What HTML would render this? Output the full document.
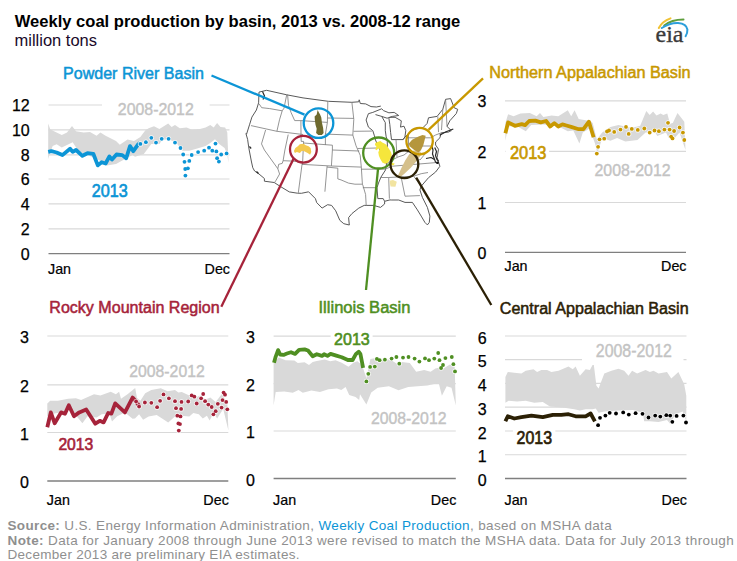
<!DOCTYPE html>
<html><head><meta charset="utf-8"><style>
html,body{margin:0;padding:0;background:#fff;}
svg{display:block;}
text{font-family:'Liberation Sans', sans-serif;}
</style></head><body>
<svg width="737" height="561" viewBox="0 0 737 561">
<rect width="737" height="561" fill="#fff"/>
<text x="14.8" y="26.5" font-size="16.4" fill="#000" font-weight="bold" textLength="445.5" lengthAdjust="spacingAndGlyphs">Weekly coal production by basin, 2013 vs. 2008-12 range</text>
<text x="14.5" y="45.6" font-size="16.5" fill="#1a0a2a">million tons</text>
<line x1="48.5" y1="105" x2="229.5" y2="105" stroke="#d9d9d9" stroke-width="1.2"/>
<text x="29.7" y="111.3" font-size="16" fill="#000" text-anchor="end" stroke="#000" stroke-width="0.25">12</text>
<line x1="48.5" y1="129.9" x2="229.5" y2="129.9" stroke="#d9d9d9" stroke-width="1.2"/>
<text x="29.7" y="136.2" font-size="16" fill="#000" text-anchor="end" stroke="#000" stroke-width="0.25">10</text>
<line x1="48.5" y1="154.8" x2="229.5" y2="154.8" stroke="#d9d9d9" stroke-width="1.2"/>
<text x="29.7" y="161.1" font-size="16" fill="#000" text-anchor="end" stroke="#000" stroke-width="0.25">8</text>
<line x1="48.5" y1="179" x2="229.5" y2="179" stroke="#d9d9d9" stroke-width="1.2"/>
<text x="29.7" y="185.3" font-size="16" fill="#000" text-anchor="end" stroke="#000" stroke-width="0.25">6</text>
<line x1="48.5" y1="203.8" x2="229.5" y2="203.8" stroke="#d9d9d9" stroke-width="1.2"/>
<text x="29.7" y="210.1" font-size="16" fill="#000" text-anchor="end" stroke="#000" stroke-width="0.25">4</text>
<line x1="48.5" y1="228.8" x2="229.5" y2="228.8" stroke="#d9d9d9" stroke-width="1.2"/>
<text x="29.7" y="235.1" font-size="16" fill="#000" text-anchor="end" stroke="#000" stroke-width="0.25">2</text>
<line x1="48.5" y1="253.6" x2="229.5" y2="253.6" stroke="#7f7f7f" stroke-width="1.4"/>
<text x="29.7" y="259.9" font-size="16" fill="#000" text-anchor="end" stroke="#000" stroke-width="0.25">0</text>
<text x="48.0" y="274.4" font-size="14.3" fill="#000" stroke="#000" stroke-width="0.2">Jan</text>
<text x="230.0" y="274.4" font-size="14.3" fill="#000" text-anchor="end" stroke="#000" stroke-width="0.2">Dec</text>
<polygon points="48.2,123.5 50.2,129.3 54.0,131.3 61.8,135.1 67.0,132.6 72.0,126.1 76.0,131.3 83.7,132.6 90.0,132.0 96.6,135.8 100.4,132.6 105.6,135.8 116.0,141.0 119.8,144.8 127.5,139.6 134.0,141.0 140.4,137.1 145.2,130.4 148.6,128.3 154.0,126.3 159.4,129.0 168.2,123.6 171.6,127.0 175.0,125.0 179.8,128.3 186.6,127.6 192.0,129.7 200.0,129.0 205.6,127.6 210.3,125.0 213.7,127.6 217.1,122.9 220.5,127.0 225.2,127.6 227.3,132.4 228.5,163.0 228.5,163.0 227.3,154.8 224.6,148.0 219.2,143.9 215.0,139.2 211.0,142.6 205.6,146.0 194.7,149.3 189.3,150.7 182.5,150.7 175.7,141.9 167.6,139.2 162.1,139.9 159.4,143.9 151.3,143.9 143.8,154.1 135.0,156.8 132.6,155.0 125.0,159.0 116.0,164.0 107.0,165.4 99.0,160.3 94.0,157.7 87.5,155.0 78.5,151.2 72.7,142.2 61.8,147.4 56.6,144.2 52.7,146.0 50.2,152.5 48.2,159.0" fill="#d9d9d9"/>
<polyline points="48.2,151.9 51.4,151.2 56.6,152.5 62.4,155.1 70.1,148.7 72.7,151.9 76.0,150.0 82.4,155.8 87.5,153.2 93.3,153.8 97.8,165.4 101.7,162.2 105.6,163.5 109.4,156.4 112.0,159.6 116.5,154.5 122.3,155.1 126.2,158.3 130.0,146.1 133.3,151.2 137.8,144.8 140.0,142.9" fill="none" stroke="#0c95d6" stroke-width="3.8" stroke-linejoin="round" stroke-linecap="butt"/>
<circle cx="140.4" cy="143.9" r="2.6" fill="#fff" fill-opacity="0.85"/>
<circle cx="145.9" cy="142.2" r="2.6" fill="#fff" fill-opacity="0.85"/>
<circle cx="151.3" cy="137.8" r="2.6" fill="#fff" fill-opacity="0.85"/>
<circle cx="156" cy="142.6" r="2.6" fill="#fff" fill-opacity="0.85"/>
<circle cx="161.7" cy="138.8" r="2.6" fill="#fff" fill-opacity="0.85"/>
<circle cx="168.6" cy="138.8" r="2.6" fill="#fff" fill-opacity="0.85"/>
<circle cx="175" cy="142.6" r="2.6" fill="#fff" fill-opacity="0.85"/>
<circle cx="180.5" cy="148" r="2.6" fill="#fff" fill-opacity="0.85"/>
<circle cx="183.2" cy="154.5" r="2.6" fill="#fff" fill-opacity="0.85"/>
<circle cx="184.5" cy="161.8" r="2.6" fill="#fff" fill-opacity="0.85"/>
<circle cx="185.2" cy="169" r="2.6" fill="#fff" fill-opacity="0.85"/>
<circle cx="185.4" cy="175.6" r="2.6" fill="#fff" fill-opacity="0.85"/>
<circle cx="187.9" cy="168.3" r="2.6" fill="#fff" fill-opacity="0.85"/>
<circle cx="189.3" cy="160.9" r="2.6" fill="#fff" fill-opacity="0.85"/>
<circle cx="191.7" cy="155" r="2.6" fill="#fff" fill-opacity="0.85"/>
<circle cx="198.1" cy="152.1" r="2.6" fill="#fff" fill-opacity="0.85"/>
<circle cx="204.2" cy="150.7" r="2.6" fill="#fff" fill-opacity="0.85"/>
<circle cx="209" cy="147.7" r="2.6" fill="#fff" fill-opacity="0.85"/>
<circle cx="212.3" cy="150.7" r="2.6" fill="#fff" fill-opacity="0.85"/>
<circle cx="215.5" cy="143.6" r="2.6" fill="#fff" fill-opacity="0.85"/>
<circle cx="216.4" cy="151.4" r="2.6" fill="#fff" fill-opacity="0.85"/>
<circle cx="217.1" cy="158.2" r="2.6" fill="#fff" fill-opacity="0.85"/>
<circle cx="218.9" cy="161.6" r="2.6" fill="#fff" fill-opacity="0.85"/>
<circle cx="221.2" cy="154.5" r="2.6" fill="#fff" fill-opacity="0.85"/>
<circle cx="226.6" cy="153.4" r="2.6" fill="#fff" fill-opacity="0.85"/>
<circle cx="140.4" cy="143.9" r="1.9" fill="#0c95d6"/>
<circle cx="145.9" cy="142.2" r="1.9" fill="#0c95d6"/>
<circle cx="151.3" cy="137.8" r="1.9" fill="#0c95d6"/>
<circle cx="156" cy="142.6" r="1.9" fill="#0c95d6"/>
<circle cx="161.7" cy="138.8" r="1.9" fill="#0c95d6"/>
<circle cx="168.6" cy="138.8" r="1.9" fill="#0c95d6"/>
<circle cx="175" cy="142.6" r="1.9" fill="#0c95d6"/>
<circle cx="180.5" cy="148" r="1.9" fill="#0c95d6"/>
<circle cx="183.2" cy="154.5" r="1.9" fill="#0c95d6"/>
<circle cx="184.5" cy="161.8" r="1.9" fill="#0c95d6"/>
<circle cx="185.2" cy="169" r="1.9" fill="#0c95d6"/>
<circle cx="185.4" cy="175.6" r="1.9" fill="#0c95d6"/>
<circle cx="187.9" cy="168.3" r="1.9" fill="#0c95d6"/>
<circle cx="189.3" cy="160.9" r="1.9" fill="#0c95d6"/>
<circle cx="191.7" cy="155" r="1.9" fill="#0c95d6"/>
<circle cx="198.1" cy="152.1" r="1.9" fill="#0c95d6"/>
<circle cx="204.2" cy="150.7" r="1.9" fill="#0c95d6"/>
<circle cx="209" cy="147.7" r="1.9" fill="#0c95d6"/>
<circle cx="212.3" cy="150.7" r="1.9" fill="#0c95d6"/>
<circle cx="215.5" cy="143.6" r="1.9" fill="#0c95d6"/>
<circle cx="216.4" cy="151.4" r="1.9" fill="#0c95d6"/>
<circle cx="217.1" cy="158.2" r="1.9" fill="#0c95d6"/>
<circle cx="218.9" cy="161.6" r="1.9" fill="#0c95d6"/>
<circle cx="221.2" cy="154.5" r="1.9" fill="#0c95d6"/>
<circle cx="226.6" cy="153.4" r="1.9" fill="#0c95d6"/>
<line x1="505" y1="100.8" x2="686" y2="100.8" stroke="#d9d9d9" stroke-width="1.2"/>
<text x="486.5" y="107.1" font-size="16" fill="#000" text-anchor="end" stroke="#000" stroke-width="0.25">3</text>
<line x1="505" y1="151.4" x2="686" y2="151.4" stroke="#d9d9d9" stroke-width="1.2"/>
<text x="486.5" y="157.7" font-size="16" fill="#000" text-anchor="end" stroke="#000" stroke-width="0.25">2</text>
<line x1="505" y1="202.5" x2="686" y2="202.5" stroke="#d9d9d9" stroke-width="1.2"/>
<text x="486.5" y="208.8" font-size="16" fill="#000" text-anchor="end" stroke="#000" stroke-width="0.25">1</text>
<line x1="505" y1="252.4" x2="686" y2="252.4" stroke="#7f7f7f" stroke-width="1.4"/>
<text x="486.5" y="258.7" font-size="16" fill="#000" text-anchor="end" stroke="#000" stroke-width="0.25">0</text>
<text x="504.5" y="270.8" font-size="14.3" fill="#000" stroke="#000" stroke-width="0.2">Jan</text>
<text x="686.5" y="270.8" font-size="14.3" fill="#000" text-anchor="end" stroke="#000" stroke-width="0.2">Dec</text>
<polygon points="505.4,123.0 508.1,114.2 513.6,116.3 520.4,113.6 529.9,112.9 536.6,116.3 540.0,112.9 543.4,117.0 551.6,115.6 558.3,116.3 567.8,110.2 571.2,116.3 574.6,110.2 578.7,119.0 586.8,120.4 590.0,120.4 592.7,123.1 596.8,139.3 602.2,132.6 610.4,127.1 618.5,125.1 625.3,126.5 632.1,127.8 640.2,125.8 646.3,110.9 649.7,114.9 653.1,111.5 656.5,115.6 660.6,113.6 663.3,114.9 667.3,113.6 670.0,123.7 672.8,123.1 677.5,112.9 684.3,121.7 685.5,150.0 685.5,150.0 679.5,132.6 674.1,138.7 668.7,138.0 666.0,132.6 657.2,136.0 655.1,131.9 645.6,132.6 637.5,140.0 625.3,141.4 617.1,138.0 610.4,140.7 602.2,138.0 597.5,153.6 595.0,143.4 589.6,128.5 582.8,132.6 579.4,143.4 573.3,130.5 567.8,131.2 557.0,125.8 543.4,124.4 531.2,125.1 525.8,131.2 516.3,125.8 508.1,126.5 505.4,140.7" fill="#d9d9d9"/>
<polyline points="505.4,133.2 508.1,122.4 514.9,125.8 521.7,124.2 525.1,125.1 529.2,121.0 535.3,120.6 540.7,122.4 546.1,121.0 550.2,126.5 554.3,123.1 558.3,126.5 562.4,124.4 566.5,125.5 571.9,127.1 578.7,129.2 583.4,129.2 588.9,121.7 593.6,137.3" fill="none" stroke="#c89800" stroke-width="3.8" stroke-linejoin="round" stroke-linecap="butt"/>
<circle cx="596.8" cy="153.6" r="2.6" fill="#fff" fill-opacity="0.85"/>
<circle cx="598.1" cy="146.8" r="2.6" fill="#fff" fill-opacity="0.85"/>
<circle cx="599.5" cy="139.3" r="2.6" fill="#fff" fill-opacity="0.85"/>
<circle cx="604.2" cy="138.7" r="2.6" fill="#fff" fill-opacity="0.85"/>
<circle cx="607" cy="131.5" r="2.6" fill="#fff" fill-opacity="0.85"/>
<circle cx="609" cy="130.5" r="2.6" fill="#fff" fill-opacity="0.85"/>
<circle cx="614.2" cy="131.9" r="2.6" fill="#fff" fill-opacity="0.85"/>
<circle cx="620.5" cy="129.6" r="2.6" fill="#fff" fill-opacity="0.85"/>
<circle cx="626" cy="126.9" r="2.6" fill="#fff" fill-opacity="0.85"/>
<circle cx="628.7" cy="133.9" r="2.6" fill="#fff" fill-opacity="0.85"/>
<circle cx="631.8" cy="128.9" r="2.6" fill="#fff" fill-opacity="0.85"/>
<circle cx="637.8" cy="129.9" r="2.6" fill="#fff" fill-opacity="0.85"/>
<circle cx="644.3" cy="128.5" r="2.6" fill="#fff" fill-opacity="0.85"/>
<circle cx="649.7" cy="132.6" r="2.6" fill="#fff" fill-opacity="0.85"/>
<circle cx="654.5" cy="130.5" r="2.6" fill="#fff" fill-opacity="0.85"/>
<circle cx="658.9" cy="131.2" r="2.6" fill="#fff" fill-opacity="0.85"/>
<circle cx="664.4" cy="129.6" r="2.6" fill="#fff" fill-opacity="0.85"/>
<circle cx="668" cy="122.8" r="2.6" fill="#fff" fill-opacity="0.85"/>
<circle cx="669.6" cy="129.6" r="2.6" fill="#fff" fill-opacity="0.85"/>
<circle cx="671.1" cy="136.6" r="2.6" fill="#fff" fill-opacity="0.85"/>
<circle cx="672.5" cy="138.4" r="2.6" fill="#fff" fill-opacity="0.85"/>
<circle cx="674.1" cy="131" r="2.6" fill="#fff" fill-opacity="0.85"/>
<circle cx="679.6" cy="127.5" r="2.6" fill="#fff" fill-opacity="0.85"/>
<circle cx="682.9" cy="132.6" r="2.6" fill="#fff" fill-opacity="0.85"/>
<circle cx="684.3" cy="140" r="2.6" fill="#fff" fill-opacity="0.85"/>
<circle cx="596.8" cy="153.6" r="1.9" fill="#c89800"/>
<circle cx="598.1" cy="146.8" r="1.9" fill="#c89800"/>
<circle cx="599.5" cy="139.3" r="1.9" fill="#c89800"/>
<circle cx="604.2" cy="138.7" r="1.9" fill="#c89800"/>
<circle cx="607" cy="131.5" r="1.9" fill="#c89800"/>
<circle cx="609" cy="130.5" r="1.9" fill="#c89800"/>
<circle cx="614.2" cy="131.9" r="1.9" fill="#c89800"/>
<circle cx="620.5" cy="129.6" r="1.9" fill="#c89800"/>
<circle cx="626" cy="126.9" r="1.9" fill="#c89800"/>
<circle cx="628.7" cy="133.9" r="1.9" fill="#c89800"/>
<circle cx="631.8" cy="128.9" r="1.9" fill="#c89800"/>
<circle cx="637.8" cy="129.9" r="1.9" fill="#c89800"/>
<circle cx="644.3" cy="128.5" r="1.9" fill="#c89800"/>
<circle cx="649.7" cy="132.6" r="1.9" fill="#c89800"/>
<circle cx="654.5" cy="130.5" r="1.9" fill="#c89800"/>
<circle cx="658.9" cy="131.2" r="1.9" fill="#c89800"/>
<circle cx="664.4" cy="129.6" r="1.9" fill="#c89800"/>
<circle cx="668" cy="122.8" r="1.9" fill="#c89800"/>
<circle cx="669.6" cy="129.6" r="1.9" fill="#c89800"/>
<circle cx="671.1" cy="136.6" r="1.9" fill="#c89800"/>
<circle cx="672.5" cy="138.4" r="1.9" fill="#c89800"/>
<circle cx="674.1" cy="131" r="1.9" fill="#c89800"/>
<circle cx="679.6" cy="127.5" r="1.9" fill="#c89800"/>
<circle cx="682.9" cy="132.6" r="1.9" fill="#c89800"/>
<circle cx="684.3" cy="140" r="1.9" fill="#c89800"/>
<line x1="47.3" y1="336" x2="228.3" y2="336" stroke="#d9d9d9" stroke-width="1.2"/>
<text x="28.9" y="343.3" font-size="16" fill="#000" text-anchor="end" stroke="#000" stroke-width="0.25">3</text>
<line x1="47.3" y1="384.9" x2="228.3" y2="384.9" stroke="#d9d9d9" stroke-width="1.2"/>
<text x="28.9" y="392.2" font-size="16" fill="#000" text-anchor="end" stroke="#000" stroke-width="0.25">2</text>
<line x1="47.3" y1="432.5" x2="228.3" y2="432.5" stroke="#d9d9d9" stroke-width="1.2"/>
<text x="28.9" y="439.8" font-size="16" fill="#000" text-anchor="end" stroke="#000" stroke-width="0.25">1</text>
<line x1="47.3" y1="481" x2="228.3" y2="481" stroke="#7f7f7f" stroke-width="1.4"/>
<text x="28.9" y="488.3" font-size="16" fill="#000" text-anchor="end" stroke="#000" stroke-width="0.25">0</text>
<text x="46.8" y="505" font-size="14.3" fill="#000" stroke="#000" stroke-width="0.2">Jan</text>
<text x="228.8" y="505" font-size="14.3" fill="#000" text-anchor="end" stroke="#000" stroke-width="0.2">Dec</text>
<polygon points="47.3,403.4 50.2,400.8 57.9,400.8 68.2,398.8 75.9,398.2 81.1,400.1 94.0,394.3 100.4,395.6 110.7,391.8 115.9,394.3 119.1,391.8 121.0,398.8 127.5,394.3 135.2,387.9 137.0,398.1 140.4,400.8 145.2,393.3 151.3,389.9 160.8,388.2 167.6,391.3 175.0,389.9 178.4,392.6 181.8,392.0 189.3,395.4 196.1,397.4 200.1,395.4 205.6,399.4 210.3,397.4 215.7,402.1 221.8,394.0 227.3,402.8 228.4,430.6 228.4,430.6 223.2,408.9 217.1,418.4 213.7,413.0 209.6,420.5 206.9,415.7 202.8,418.4 198.8,414.3 193.3,413.0 189.3,416.4 181.1,415.7 174.4,417.1 168.2,422.5 162.1,418.4 156.7,415.0 148.6,416.4 143.1,419.8 139.1,414.3 135.0,418.4 132.6,418.8 124.9,412.4 117.2,416.2 112.0,421.4 109.4,413.7 101.7,414.3 96.6,417.5 87.5,416.2 82.4,423.3 74.6,413.7 68.2,409.8 60.5,412.4 52.7,413.7 47.3,416.2" fill="#d9d9d9"/>
<polyline points="47.3,427.2 50.8,412.4 54.7,423.3 61.1,412.4 65.0,413.7 68.8,405.3 74.0,416.2 79.2,412.4 86.2,409.5 95.3,423.7 99.8,420.8 103.6,422.4 108.2,413.0 111.4,413.7 115.2,403.4 124.9,412.4 132.6,397.6 136.5,402.1 139.1,405.9" fill="none" stroke="#a6233a" stroke-width="3.8" stroke-linejoin="round" stroke-linecap="butt"/>
<circle cx="136.1" cy="401.5" r="2.6" fill="#fff" fill-opacity="0.85"/>
<circle cx="139.1" cy="406.5" r="2.6" fill="#fff" fill-opacity="0.85"/>
<circle cx="144.9" cy="402.5" r="2.6" fill="#fff" fill-opacity="0.85"/>
<circle cx="151.3" cy="402.8" r="2.6" fill="#fff" fill-opacity="0.85"/>
<circle cx="157.1" cy="407.2" r="2.6" fill="#fff" fill-opacity="0.85"/>
<circle cx="160.1" cy="400.8" r="2.6" fill="#fff" fill-opacity="0.85"/>
<circle cx="163.5" cy="394.4" r="2.6" fill="#fff" fill-opacity="0.85"/>
<circle cx="168.9" cy="398.3" r="2.6" fill="#fff" fill-opacity="0.85"/>
<circle cx="175" cy="401.2" r="2.6" fill="#fff" fill-opacity="0.85"/>
<circle cx="176" cy="408.2" r="2.6" fill="#fff" fill-opacity="0.85"/>
<circle cx="177.3" cy="415.7" r="2.6" fill="#fff" fill-opacity="0.85"/>
<circle cx="178.4" cy="423.4" r="2.6" fill="#fff" fill-opacity="0.85"/>
<circle cx="178.8" cy="430.6" r="2.6" fill="#fff" fill-opacity="0.85"/>
<circle cx="180" cy="424.1" r="2.6" fill="#fff" fill-opacity="0.85"/>
<circle cx="180.5" cy="416.4" r="2.6" fill="#fff" fill-opacity="0.85"/>
<circle cx="181.1" cy="408.9" r="2.6" fill="#fff" fill-opacity="0.85"/>
<circle cx="181.5" cy="401.9" r="2.6" fill="#fff" fill-opacity="0.85"/>
<circle cx="188.2" cy="401.5" r="2.6" fill="#fff" fill-opacity="0.85"/>
<circle cx="191.7" cy="395.4" r="2.6" fill="#fff" fill-opacity="0.85"/>
<circle cx="194.4" cy="396.7" r="2.6" fill="#fff" fill-opacity="0.85"/>
<circle cx="196.7" cy="403.5" r="2.6" fill="#fff" fill-opacity="0.85"/>
<circle cx="201.1" cy="398.3" r="2.6" fill="#fff" fill-opacity="0.85"/>
<circle cx="203.2" cy="394" r="2.6" fill="#fff" fill-opacity="0.85"/>
<circle cx="205.1" cy="401.2" r="2.6" fill="#fff" fill-opacity="0.85"/>
<circle cx="208.3" cy="404.6" r="2.6" fill="#fff" fill-opacity="0.85"/>
<circle cx="211.7" cy="407" r="2.6" fill="#fff" fill-opacity="0.85"/>
<circle cx="213.4" cy="414.3" r="2.6" fill="#fff" fill-opacity="0.85"/>
<circle cx="215.7" cy="411.2" r="2.6" fill="#fff" fill-opacity="0.85"/>
<circle cx="217.8" cy="403.8" r="2.6" fill="#fff" fill-opacity="0.85"/>
<circle cx="221.6" cy="407.6" r="2.6" fill="#fff" fill-opacity="0.85"/>
<circle cx="222.5" cy="400.1" r="2.6" fill="#fff" fill-opacity="0.85"/>
<circle cx="223.6" cy="392.6" r="2.6" fill="#fff" fill-opacity="0.85"/>
<circle cx="225" cy="394.7" r="2.6" fill="#fff" fill-opacity="0.85"/>
<circle cx="226.2" cy="401.9" r="2.6" fill="#fff" fill-opacity="0.85"/>
<circle cx="227.3" cy="409.3" r="2.6" fill="#fff" fill-opacity="0.85"/>
<circle cx="136.1" cy="401.5" r="1.9" fill="#a6233a"/>
<circle cx="139.1" cy="406.5" r="1.9" fill="#a6233a"/>
<circle cx="144.9" cy="402.5" r="1.9" fill="#a6233a"/>
<circle cx="151.3" cy="402.8" r="1.9" fill="#a6233a"/>
<circle cx="157.1" cy="407.2" r="1.9" fill="#a6233a"/>
<circle cx="160.1" cy="400.8" r="1.9" fill="#a6233a"/>
<circle cx="163.5" cy="394.4" r="1.9" fill="#a6233a"/>
<circle cx="168.9" cy="398.3" r="1.9" fill="#a6233a"/>
<circle cx="175" cy="401.2" r="1.9" fill="#a6233a"/>
<circle cx="176" cy="408.2" r="1.9" fill="#a6233a"/>
<circle cx="177.3" cy="415.7" r="1.9" fill="#a6233a"/>
<circle cx="178.4" cy="423.4" r="1.9" fill="#a6233a"/>
<circle cx="178.8" cy="430.6" r="1.9" fill="#a6233a"/>
<circle cx="180" cy="424.1" r="1.9" fill="#a6233a"/>
<circle cx="180.5" cy="416.4" r="1.9" fill="#a6233a"/>
<circle cx="181.1" cy="408.9" r="1.9" fill="#a6233a"/>
<circle cx="181.5" cy="401.9" r="1.9" fill="#a6233a"/>
<circle cx="188.2" cy="401.5" r="1.9" fill="#a6233a"/>
<circle cx="191.7" cy="395.4" r="1.9" fill="#a6233a"/>
<circle cx="194.4" cy="396.7" r="1.9" fill="#a6233a"/>
<circle cx="196.7" cy="403.5" r="1.9" fill="#a6233a"/>
<circle cx="201.1" cy="398.3" r="1.9" fill="#a6233a"/>
<circle cx="203.2" cy="394" r="1.9" fill="#a6233a"/>
<circle cx="205.1" cy="401.2" r="1.9" fill="#a6233a"/>
<circle cx="208.3" cy="404.6" r="1.9" fill="#a6233a"/>
<circle cx="211.7" cy="407" r="1.9" fill="#a6233a"/>
<circle cx="213.4" cy="414.3" r="1.9" fill="#a6233a"/>
<circle cx="215.7" cy="411.2" r="1.9" fill="#a6233a"/>
<circle cx="217.8" cy="403.8" r="1.9" fill="#a6233a"/>
<circle cx="221.6" cy="407.6" r="1.9" fill="#a6233a"/>
<circle cx="222.5" cy="400.1" r="1.9" fill="#a6233a"/>
<circle cx="223.6" cy="392.6" r="1.9" fill="#a6233a"/>
<circle cx="225" cy="394.7" r="1.9" fill="#a6233a"/>
<circle cx="226.2" cy="401.9" r="1.9" fill="#a6233a"/>
<circle cx="227.3" cy="409.3" r="1.9" fill="#a6233a"/>
<line x1="273.6" y1="336.1" x2="455.8" y2="336.1" stroke="#d9d9d9" stroke-width="1.2"/>
<text x="254.9" y="343.1" font-size="16" fill="#000" text-anchor="end" stroke="#000" stroke-width="0.25">3</text>
<line x1="273.6" y1="383.6" x2="455.8" y2="383.6" stroke="#d9d9d9" stroke-width="1.2"/>
<text x="254.9" y="390.6" font-size="16" fill="#000" text-anchor="end" stroke="#000" stroke-width="0.25">2</text>
<line x1="273.6" y1="431" x2="455.8" y2="431" stroke="#d9d9d9" stroke-width="1.2"/>
<text x="254.9" y="438.0" font-size="16" fill="#000" text-anchor="end" stroke="#000" stroke-width="0.25">1</text>
<line x1="273.6" y1="478.5" x2="455.8" y2="478.5" stroke="#7f7f7f" stroke-width="1.4"/>
<text x="254.9" y="485.5" font-size="16" fill="#000" text-anchor="end" stroke="#000" stroke-width="0.25">0</text>
<text x="273.1" y="505" font-size="14.3" fill="#000" stroke="#000" stroke-width="0.2">Jan</text>
<text x="456.3" y="505" font-size="14.3" fill="#000" text-anchor="end" stroke="#000" stroke-width="0.2">Dec</text>
<polygon points="273.6,362.8 274.0,362.7 278.8,357.6 285.6,360.3 294.4,360.6 297.8,363.0 304.6,362.3 309.0,365.0 312.7,362.0 316.8,361.0 322.0,360.0 324.8,359.6 330.2,361.3 335.6,360.3 341.7,362.7 348.5,366.7 353.3,362.7 357.3,361.3 360.1,363.4 363.2,368.5 366.4,378.2 370.4,358.9 376.0,358.1 390.5,359.7 396.9,363.7 401.7,362.1 409.8,362.9 416.2,371.7 424.2,370.1 430.6,371.7 435.4,368.5 438.7,367.7 443.5,368.5 449.9,364.5 454.7,366.9 455.8,405.4 455.8,405.4 451.5,387.8 446.7,386.2 441.9,395.8 438.7,383.0 427.4,385.4 417.8,386.2 408.2,387.0 398.5,390.2 388.9,386.2 377.7,387.8 371.2,392.6 366.4,404.6 360.0,394.2 359.2,399.9 355.6,397.1 349.2,394.9 345.6,387.1 341.3,389.9 337.0,388.5 328.5,389.2 319.9,392.1 311.4,390.6 302.8,392.8 298.5,389.9 292.8,392.8 284.3,391.4 275.7,392.1 273.6,405.6" fill="#d9d9d9"/>
<polyline points="274.0,362.7 275.7,356.6 278.1,350.1 280.1,354.5 283.5,354.9 286.9,353.5 291.0,352.2 295.1,353.9 299.1,349.8 304.6,349.4 308.0,350.5 312.7,356.2 316.8,354.2 322.0,355.9 324.1,354.2 327.5,355.9 330.6,353.9 336.3,355.6 341.7,357.2 347.9,360.0 352.6,360.0 356.0,353.9 358.7,351.8 360.4,353.9 363.1,367.8" fill="none" stroke="#4f8f22" stroke-width="3.8" stroke-linejoin="round" stroke-linecap="butt"/>
<circle cx="366.4" cy="381.4" r="2.6" fill="#fff" fill-opacity="0.85"/>
<circle cx="368.3" cy="373.8" r="2.6" fill="#fff" fill-opacity="0.85"/>
<circle cx="370.1" cy="366.9" r="2.6" fill="#fff" fill-opacity="0.85"/>
<circle cx="374.8" cy="366.6" r="2.6" fill="#fff" fill-opacity="0.85"/>
<circle cx="376.9" cy="358.9" r="2.6" fill="#fff" fill-opacity="0.85"/>
<circle cx="379.6" cy="360.2" r="2.6" fill="#fff" fill-opacity="0.85"/>
<circle cx="384.9" cy="359.7" r="2.6" fill="#fff" fill-opacity="0.85"/>
<circle cx="391.6" cy="358.6" r="2.6" fill="#fff" fill-opacity="0.85"/>
<circle cx="396.4" cy="357" r="2.6" fill="#fff" fill-opacity="0.85"/>
<circle cx="399.3" cy="363.7" r="2.6" fill="#fff" fill-opacity="0.85"/>
<circle cx="403" cy="357.6" r="2.6" fill="#fff" fill-opacity="0.85"/>
<circle cx="408.5" cy="357" r="2.6" fill="#fff" fill-opacity="0.85"/>
<circle cx="414.6" cy="358.6" r="2.6" fill="#fff" fill-opacity="0.85"/>
<circle cx="419.4" cy="361.6" r="2.6" fill="#fff" fill-opacity="0.85"/>
<circle cx="425" cy="358.4" r="2.6" fill="#fff" fill-opacity="0.85"/>
<circle cx="429" cy="360.2" r="2.6" fill="#fff" fill-opacity="0.85"/>
<circle cx="434.3" cy="358.6" r="2.6" fill="#fff" fill-opacity="0.85"/>
<circle cx="438.2" cy="353" r="2.6" fill="#fff" fill-opacity="0.85"/>
<circle cx="439.5" cy="360.2" r="2.6" fill="#fff" fill-opacity="0.85"/>
<circle cx="441.1" cy="368" r="2.6" fill="#fff" fill-opacity="0.85"/>
<circle cx="443" cy="365" r="2.6" fill="#fff" fill-opacity="0.85"/>
<circle cx="445.4" cy="358.1" r="2.6" fill="#fff" fill-opacity="0.85"/>
<circle cx="451.8" cy="357" r="2.6" fill="#fff" fill-opacity="0.85"/>
<circle cx="453.4" cy="364.2" r="2.6" fill="#fff" fill-opacity="0.85"/>
<circle cx="455" cy="371.4" r="2.6" fill="#fff" fill-opacity="0.85"/>
<circle cx="366.4" cy="381.4" r="1.9" fill="#4f8f22"/>
<circle cx="368.3" cy="373.8" r="1.9" fill="#4f8f22"/>
<circle cx="370.1" cy="366.9" r="1.9" fill="#4f8f22"/>
<circle cx="374.8" cy="366.6" r="1.9" fill="#4f8f22"/>
<circle cx="376.9" cy="358.9" r="1.9" fill="#4f8f22"/>
<circle cx="379.6" cy="360.2" r="1.9" fill="#4f8f22"/>
<circle cx="384.9" cy="359.7" r="1.9" fill="#4f8f22"/>
<circle cx="391.6" cy="358.6" r="1.9" fill="#4f8f22"/>
<circle cx="396.4" cy="357" r="1.9" fill="#4f8f22"/>
<circle cx="399.3" cy="363.7" r="1.9" fill="#4f8f22"/>
<circle cx="403" cy="357.6" r="1.9" fill="#4f8f22"/>
<circle cx="408.5" cy="357" r="1.9" fill="#4f8f22"/>
<circle cx="414.6" cy="358.6" r="1.9" fill="#4f8f22"/>
<circle cx="419.4" cy="361.6" r="1.9" fill="#4f8f22"/>
<circle cx="425" cy="358.4" r="1.9" fill="#4f8f22"/>
<circle cx="429" cy="360.2" r="1.9" fill="#4f8f22"/>
<circle cx="434.3" cy="358.6" r="1.9" fill="#4f8f22"/>
<circle cx="438.2" cy="353" r="1.9" fill="#4f8f22"/>
<circle cx="439.5" cy="360.2" r="1.9" fill="#4f8f22"/>
<circle cx="441.1" cy="368" r="1.9" fill="#4f8f22"/>
<circle cx="443" cy="365" r="1.9" fill="#4f8f22"/>
<circle cx="445.4" cy="358.1" r="1.9" fill="#4f8f22"/>
<circle cx="451.8" cy="357" r="1.9" fill="#4f8f22"/>
<circle cx="453.4" cy="364.2" r="1.9" fill="#4f8f22"/>
<circle cx="455" cy="371.4" r="1.9" fill="#4f8f22"/>
<line x1="505" y1="336" x2="686.5" y2="336" stroke="#d9d9d9" stroke-width="1.2"/>
<text x="486.6" y="343.5" font-size="16" fill="#000" text-anchor="end" stroke="#000" stroke-width="0.25">6</text>
<line x1="505" y1="359.6" x2="686.5" y2="359.6" stroke="#d9d9d9" stroke-width="1.2"/>
<text x="486.6" y="367.1" font-size="16" fill="#000" text-anchor="end" stroke="#000" stroke-width="0.25">5</text>
<line x1="505" y1="383.3" x2="686.5" y2="383.3" stroke="#d9d9d9" stroke-width="1.2"/>
<text x="486.6" y="390.8" font-size="16" fill="#000" text-anchor="end" stroke="#000" stroke-width="0.25">4</text>
<line x1="505" y1="407.1" x2="686.5" y2="407.1" stroke="#d9d9d9" stroke-width="1.2"/>
<text x="486.6" y="414.6" font-size="16" fill="#000" text-anchor="end" stroke="#000" stroke-width="0.25">3</text>
<line x1="505" y1="431" x2="686.5" y2="431" stroke="#d9d9d9" stroke-width="1.2"/>
<text x="486.6" y="438.5" font-size="16" fill="#000" text-anchor="end" stroke="#000" stroke-width="0.25">2</text>
<line x1="505" y1="454.75" x2="686.5" y2="454.75" stroke="#d9d9d9" stroke-width="1.2"/>
<text x="486.6" y="462.2" font-size="16" fill="#000" text-anchor="end" stroke="#000" stroke-width="0.25">1</text>
<line x1="505" y1="478.5" x2="686.5" y2="478.5" stroke="#7f7f7f" stroke-width="1.4"/>
<text x="486.6" y="486.0" font-size="16" fill="#000" text-anchor="end" stroke="#000" stroke-width="0.25">0</text>
<text x="504.5" y="505" font-size="14.3" fill="#000" stroke="#000" stroke-width="0.2">Jan</text>
<text x="687.0" y="505" font-size="14.3" fill="#000" text-anchor="end" stroke="#000" stroke-width="0.2">Dec</text>
<polygon points="505.4,377.1 507.8,372.1 514.3,372.8 521.4,373.6 525.7,370.7 533.5,369.3 537.1,372.1 541.4,370.0 547.1,370.0 551.4,372.1 558.5,370.7 568.5,366.4 572.8,369.3 575.6,366.4 579.9,375.7 585.6,369.3 589.9,370.0 593.6,362.9 596.4,385.7 598.6,388.5 604.3,373.6 611.4,370.7 618.5,368.8 624.2,370.7 628.5,375.7 632.1,370.7 637.1,373.6 645.6,370.0 649.9,372.1 653.5,370.7 658.5,373.6 667.0,372.1 671.3,378.5 678.4,372.1 684.2,384.3 686.3,395.7 686.3,421.0 686.3,421.3 682.7,411.4 675.6,414.2 669.9,423.5 667.0,419.9 658.5,422.1 649.9,421.3 644.2,421.3 642.8,412.8 632.8,409.9 618.5,410.6 604.3,411.4 598.6,412.8 595.7,408.5 592.7,409.2 585.6,409.2 579.9,410.6 574.2,409.2 564.2,407.8 549.9,406.4 542.8,402.1 534.2,402.8 525.7,400.7 517.1,401.4 508.6,400.7 505.4,402.8" fill="#d9d9d9"/>
<polyline points="505.4,421.3 507.8,416.3 514.3,418.5 521.4,417.1 531.4,415.6 542.8,417.1 552.8,414.9 561.3,414.9 568.5,414.2 575.6,416.3 585.6,416.3 590.6,413.5 594.9,421.3" fill="none" stroke="#2b2005" stroke-width="3.8" stroke-linejoin="round" stroke-linecap="butt"/>
<circle cx="598.1" cy="425.2" r="2.6" fill="#fff" fill-opacity="0.85"/>
<circle cx="600" cy="417.8" r="2.6" fill="#fff" fill-opacity="0.85"/>
<circle cx="605.4" cy="415.6" r="2.6" fill="#fff" fill-opacity="0.85"/>
<circle cx="609.7" cy="412.8" r="2.6" fill="#fff" fill-opacity="0.85"/>
<circle cx="616" cy="413.5" r="2.6" fill="#fff" fill-opacity="0.85"/>
<circle cx="623.2" cy="412.4" r="2.6" fill="#fff" fill-opacity="0.85"/>
<circle cx="628.8" cy="414.6" r="2.6" fill="#fff" fill-opacity="0.85"/>
<circle cx="635.6" cy="413.2" r="2.6" fill="#fff" fill-opacity="0.85"/>
<circle cx="642.5" cy="413.8" r="2.6" fill="#fff" fill-opacity="0.85"/>
<circle cx="648.5" cy="417.5" r="2.6" fill="#fff" fill-opacity="0.85"/>
<circle cx="655.2" cy="415.6" r="2.6" fill="#fff" fill-opacity="0.85"/>
<circle cx="660.3" cy="416.6" r="2.6" fill="#fff" fill-opacity="0.85"/>
<circle cx="666.3" cy="415.2" r="2.6" fill="#fff" fill-opacity="0.85"/>
<circle cx="670.2" cy="415.6" r="2.6" fill="#fff" fill-opacity="0.85"/>
<circle cx="672.3" cy="421.8" r="2.6" fill="#fff" fill-opacity="0.85"/>
<circle cx="676.6" cy="415.9" r="2.6" fill="#fff" fill-opacity="0.85"/>
<circle cx="683.4" cy="415.6" r="2.6" fill="#fff" fill-opacity="0.85"/>
<circle cx="686" cy="422.5" r="2.6" fill="#fff" fill-opacity="0.85"/>
<circle cx="598.1" cy="425.2" r="1.9" fill="#000"/>
<circle cx="600" cy="417.8" r="1.9" fill="#000"/>
<circle cx="605.4" cy="415.6" r="1.9" fill="#000"/>
<circle cx="609.7" cy="412.8" r="1.9" fill="#000"/>
<circle cx="616" cy="413.5" r="1.9" fill="#000"/>
<circle cx="623.2" cy="412.4" r="1.9" fill="#000"/>
<circle cx="628.8" cy="414.6" r="1.9" fill="#000"/>
<circle cx="635.6" cy="413.2" r="1.9" fill="#000"/>
<circle cx="642.5" cy="413.8" r="1.9" fill="#000"/>
<circle cx="648.5" cy="417.5" r="1.9" fill="#000"/>
<circle cx="655.2" cy="415.6" r="1.9" fill="#000"/>
<circle cx="660.3" cy="416.6" r="1.9" fill="#000"/>
<circle cx="666.3" cy="415.2" r="1.9" fill="#000"/>
<circle cx="670.2" cy="415.6" r="1.9" fill="#000"/>
<circle cx="672.3" cy="421.8" r="1.9" fill="#000"/>
<circle cx="676.6" cy="415.9" r="1.9" fill="#000"/>
<circle cx="683.4" cy="415.6" r="1.9" fill="#000"/>
<circle cx="686" cy="422.5" r="1.9" fill="#000"/>
<rect x="102" y="98" width="107.6" height="14" fill="#fff"/>
<text x="117.8" y="115.4" font-size="16.76" fill="#c3c3c3" textLength="76.0" lengthAdjust="spacingAndGlyphs" stroke="#c3c3c3" stroke-width="0.4">2008-2012</text>
<text x="91.7" y="196.6" font-size="17.87" fill="#0c95d6" textLength="36.0" lengthAdjust="spacingAndGlyphs" stroke="#0c95d6" stroke-width="0.65">2013</text>
<rect x="505.5" y="146" width="43.5" height="11" fill="#fff"/>
<text x="509.9" y="159.4" font-size="17.58" fill="#c89800" textLength="36.5" lengthAdjust="spacingAndGlyphs" stroke="#c89800" stroke-width="0.65">2013</text>
<text x="594.5" y="175.6" font-size="17.18" fill="#c3c3c3" textLength="76.1" lengthAdjust="spacingAndGlyphs" stroke="#c3c3c3" stroke-width="0.4">2008-2012</text>
<text x="129.3" y="376.8" font-size="16.90" fill="#c3c3c3" textLength="75.4" lengthAdjust="spacingAndGlyphs" stroke="#c3c3c3" stroke-width="0.4">2008-2012</text>
<text x="58.4" y="449.8" font-size="17.28" fill="#a6233a" textLength="34.9" lengthAdjust="spacingAndGlyphs" stroke="#a6233a" stroke-width="0.65">2013</text>
<rect x="330.6" y="331" width="42.0" height="10" fill="#fff"/>
<text x="334.1" y="345.2" font-size="17.28" fill="#4f8f22" textLength="35.7" lengthAdjust="spacingAndGlyphs" stroke="#4f8f22" stroke-width="0.65">2013</text>
<text x="370.9" y="424.3" font-size="16.90" fill="#c3c3c3" textLength="75.6" lengthAdjust="spacingAndGlyphs" stroke="#c3c3c3" stroke-width="0.4">2008-2012</text>
<rect x="582" y="354" width="101.5" height="11" fill="#fff"/>
<text x="595.8" y="357.1" font-size="18.02" fill="#c3c3c3" textLength="76.1" lengthAdjust="spacingAndGlyphs" stroke="#c3c3c3" stroke-width="0.4">2008-2012</text>
<rect x="512.9" y="426" width="42.5" height="10" fill="#fff"/>
<text x="516.6" y="444.0" font-size="17.58" fill="#2b2005" textLength="35.5" lengthAdjust="spacingAndGlyphs" stroke="#2b2005" stroke-width="0.65">2013</text>
<text x="63.1" y="79.2" font-size="15.6" fill="#0c95d6" textLength="140.8" lengthAdjust="spacingAndGlyphs" stroke="#0c95d6" stroke-width="0.5">Powder River Basin</text>
<text x="489.3" y="77.6" font-size="15.6" fill="#c89800" textLength="201.3" lengthAdjust="spacingAndGlyphs" stroke="#c89800" stroke-width="0.5">Northern Appalachian Basin</text>
<text x="49.3" y="313.2" font-size="15.6" fill="#a6233a" textLength="170.4" lengthAdjust="spacingAndGlyphs" stroke="#a6233a" stroke-width="0.5">Rocky Mountain Region</text>
<text x="318.5" y="313.1" font-size="15.6" fill="#4f8f22" textLength="92.0" lengthAdjust="spacingAndGlyphs" stroke="#4f8f22" stroke-width="0.5">Illinois Basin</text>
<text x="499.8" y="313.5" font-size="15.6" fill="#2b2005" textLength="188.8" lengthAdjust="spacingAndGlyphs" stroke="#2b2005" stroke-width="0.5">Central Appalachian Basin</text>
<polyline points="246.6,134.0 249.7,124.2 251.9,117.1 256.4,110.0 258.6,102.8 259.0,92.1 266.6,90.3 286.7,94.8 303.0,97.9 328.3,101.3 351.9,102.3 358.7,101.8 359.2,99.8 360.3,103.5 365.7,103.9 371.0,106.6 376.4,107.0 380.8,106.1" fill="none" stroke="#505050" stroke-width="0.95" stroke-linejoin="round"/>
<polyline points="368.4,113.7 372.8,112.4 381.7,108.8 383.5,110.6 388.9,112.8 394.2,112.4 398.7,115.5" fill="none" stroke="#505050" stroke-width="0.95" stroke-linejoin="round"/>
<polyline points="375.5,114.6 381.7,116.4 387.1,118.2 392.4,116.4 398.7,115.5" fill="none" stroke="#505050" stroke-width="0.95" stroke-linejoin="round"/>
<polyline points="368.4,113.7 366.1,120.0 368.4,127.1 372.8,130.7 374.2,135.1 375.5,140.0 378.0,146.0 380.5,151.0 383.0,157.0 386.5,164.0 385.5,170.0 381.0,177.0 378.5,183.0 377.0,187.7 377.8,198.6 383.2,198.6 384.6,201.3" fill="none" stroke="#505050" stroke-width="0.95" stroke-linejoin="round"/>
<polyline points="381.7,116.4 385.3,122.6 385.3,130.7 386.2,136.9 387.2,139.6 387.5,150.0 387.5,158.0 386.5,164.0" fill="none" stroke="#505050" stroke-width="0.95" stroke-linejoin="round"/>
<polyline points="391.5,139.6 390.6,132.4 389.8,124.4 388.9,118.2 389.8,117.3 395.1,117.3 401.3,120.8 400.5,127.1 404.0,126.2 405.8,130.7 404.9,136.9 403.1,139.6 391.5,139.6" fill="none" stroke="#505050" stroke-width="0.95" stroke-linejoin="round"/>
<polyline points="403.1,139.6 404.3,137.8 408.6,133.5 414.3,129.2 422.8,127.8 427.1,123.5 428.5,117.8 437.1,116.4 442.8,109.3 445.6,99.3 450.6,98.6 454.2,107.8 457.7,109.3 456.3,113.5 449.9,120.7 447.0,126.4 451.3,130.6 448.5,132.1 441.3,132.8 439.9,137.8 435.6,142.0 435.6,145.0 438.5,149.2 437.1,157.7 439.9,166.3 435.6,172.0 428.7,177.5 421.2,186.2 419.9,189.9 422.4,197.4 427.4,207.4 429.9,216.1 429.3,222.4 427.4,224.9 424.9,222.4 421.2,216.1 417.4,209.9 412.4,202.4 405.0,202.4 398.7,200.0 391.2,200.0 390.0,199.9 384.6,201.3 384.6,204.0 380.5,207.4 373.7,205.4 366.9,205.4 364.2,205.4 358.8,208.1 352.0,213.5 348.6,217.6 349.3,225.0 343.8,223.7 339.8,220.3 335.7,210.8 331.6,205.4 327.6,204.7 322.1,208.1 316.7,202.6 315.4,198.6 308.6,191.8 301.4,193.3 297.4,193.2 289.3,191.9 280.4,186.5 274.2,182.5 264.4,181.2 264.4,178.5 259.0,174.0 254.6,171.0 252.8,167.8 251.5,162.0 249.2,150.0 248.4,145.0 247.6,139.3 245.9,133.5 246.6,134.0" fill="none" stroke="#505050" stroke-width="0.95" stroke-linejoin="round"/>
<polyline points="259.0,103.7 261.7,107.7 269.7,108.6 282.2,110.8" fill="none" stroke="#7a7a7a" stroke-width="0.8" stroke-linejoin="round"/>
<polyline points="286.7,94.8 284.0,108.2 282.2,110.8 279.5,119.8 276.9,131.3" fill="none" stroke="#7a7a7a" stroke-width="0.8" stroke-linejoin="round"/>
<polyline points="251.0,125.6 276.9,131.3 303.0,134.5" fill="none" stroke="#7a7a7a" stroke-width="0.8" stroke-linejoin="round"/>
<polyline points="287.6,94.8 288.5,105.5 291.1,112.6 294.7,120.6 300.9,120.6 327.4,122.4" fill="none" stroke="#7a7a7a" stroke-width="0.8" stroke-linejoin="round"/>
<polyline points="300.9,120.6 301.0,134.5 301.2,141.4 303.6,141.4" fill="none" stroke="#7a7a7a" stroke-width="0.8" stroke-linejoin="round"/>
<polyline points="303.6,143.0 332.4,145.2" fill="none" stroke="#7a7a7a" stroke-width="0.8" stroke-linejoin="round"/>
<polyline points="332.4,145.2 332.4,150.0 331.4,166.0" fill="none" stroke="#7a7a7a" stroke-width="0.8" stroke-linejoin="round"/>
<polyline points="327.8,101.8 327.4,122.4 325.4,134.1 325.4,145.0" fill="none" stroke="#7a7a7a" stroke-width="0.8" stroke-linejoin="round"/>
<polyline points="327.4,118.0 353.8,118.4" fill="none" stroke="#7a7a7a" stroke-width="0.8" stroke-linejoin="round"/>
<polyline points="325.4,134.1 352.8,135.1" fill="none" stroke="#7a7a7a" stroke-width="0.8" stroke-linejoin="round"/>
<polyline points="351.9,102.3 353.8,119.4 352.8,135.0" fill="none" stroke="#7a7a7a" stroke-width="0.8" stroke-linejoin="round"/>
<polyline points="353.5,131.3 371.9,131.1" fill="none" stroke="#7a7a7a" stroke-width="0.8" stroke-linejoin="round"/>
<polyline points="332.4,150.0 359.2,151.0" fill="none" stroke="#7a7a7a" stroke-width="0.8" stroke-linejoin="round"/>
<polyline points="352.8,135.0 356.0,145.7 360.2,155.3 361.3,167.1" fill="none" stroke="#7a7a7a" stroke-width="0.8" stroke-linejoin="round"/>
<polyline points="357.5,148.5 377.0,148.0" fill="none" stroke="#7a7a7a" stroke-width="0.8" stroke-linejoin="round"/>
<polyline points="302.5,164.4 331.4,166.0 361.3,167.1" fill="none" stroke="#7a7a7a" stroke-width="0.8" stroke-linejoin="round"/>
<polyline points="361.3,169.2 386.0,169.2" fill="none" stroke="#7a7a7a" stroke-width="0.8" stroke-linejoin="round"/>
<polyline points="283.1,160.7 293.0,161.1 303.0,162.4" fill="none" stroke="#7a7a7a" stroke-width="0.8" stroke-linejoin="round"/>
<polyline points="302.3,162.4 298.3,192.8" fill="none" stroke="#7a7a7a" stroke-width="0.8" stroke-linejoin="round"/>
<polyline points="303.6,141.4 302.5,165.0" fill="none" stroke="#7a7a7a" stroke-width="0.8" stroke-linejoin="round"/>
<polyline points="288.2,134.6 284.9,150.0 283.1,160.7" fill="none" stroke="#7a7a7a" stroke-width="0.8" stroke-linejoin="round"/>
<polyline points="265.6,130.0 261.5,143.9 264.4,150.0 277.8,168.7 279.6,174.0 276.0,180.3 274.6,182.5" fill="none" stroke="#7a7a7a" stroke-width="0.8" stroke-linejoin="round"/>
<polyline points="277.8,168.7 278.7,164.3 282.2,163.4 283.1,160.7" fill="none" stroke="#7a7a7a" stroke-width="0.8" stroke-linejoin="round"/>
<polyline points="327.1,166.0 324.9,191.7" fill="none" stroke="#7a7a7a" stroke-width="0.8" stroke-linejoin="round"/>
<polyline points="327.1,167.1 337.8,168.2 337.8,178.9 341.0,179.9 348.5,183.1 354.9,184.2 362.4,184.2" fill="none" stroke="#7a7a7a" stroke-width="0.8" stroke-linejoin="round"/>
<polyline points="361.3,167.1 362.4,184.2 362.8,185.0 365.6,194.5 366.2,205.4" fill="none" stroke="#7a7a7a" stroke-width="0.8" stroke-linejoin="round"/>
<polyline points="362.8,187.7 377.0,187.7" fill="none" stroke="#7a7a7a" stroke-width="0.8" stroke-linejoin="round"/>
<polyline points="388.7,177.5 389.4,198.7" fill="none" stroke="#7a7a7a" stroke-width="0.8" stroke-linejoin="round"/>
<polyline points="381.0,177.5 388.7,177.5 413.7,176.2 421.2,173.7 428.0,172.5" fill="none" stroke="#7a7a7a" stroke-width="0.8" stroke-linejoin="round"/>
<polyline points="401.0,176.5 405.0,196.2 419.9,195.6" fill="none" stroke="#7a7a7a" stroke-width="0.8" stroke-linejoin="round"/>
<polyline points="413.7,176.2 421.2,186.2" fill="none" stroke="#7a7a7a" stroke-width="0.8" stroke-linejoin="round"/>
<polyline points="385.5,169.0 392.5,166.2 437.0,162.5" fill="none" stroke="#7a7a7a" stroke-width="0.8" stroke-linejoin="round"/>
<polyline points="396.0,139.6 397.0,157.0" fill="none" stroke="#7a7a7a" stroke-width="0.8" stroke-linejoin="round"/>
<polyline points="386.5,164.0 392.0,160.0 398.0,157.0 404.0,155.0 409.0,151.0" fill="none" stroke="#7a7a7a" stroke-width="0.8" stroke-linejoin="round"/>
<polyline points="408.5,135.0 408.5,151.0" fill="none" stroke="#7a7a7a" stroke-width="0.8" stroke-linejoin="round"/>
<polyline points="409.0,151.0 414.0,157.0 420.0,160.0 425.0,154.0 431.0,148.0" fill="none" stroke="#7a7a7a" stroke-width="0.8" stroke-linejoin="round"/>
<polyline points="405.7,137.8 430.6,137.8" fill="none" stroke="#7a7a7a" stroke-width="0.8" stroke-linejoin="round"/>
<polyline points="408.5,146.0 433.0,146.0" fill="none" stroke="#7a7a7a" stroke-width="0.8" stroke-linejoin="round"/>
<polyline points="437.8,116.4 438.5,132.1" fill="none" stroke="#7a7a7a" stroke-width="0.8" stroke-linejoin="round"/>
<polyline points="442.8,109.3 441.5,130.0" fill="none" stroke="#7a7a7a" stroke-width="0.8" stroke-linejoin="round"/>
<polyline points="445.6,99.3 447.0,126.4" fill="none" stroke="#7a7a7a" stroke-width="0.8" stroke-linejoin="round"/>
<polyline points="430.6,137.8 435.6,135.0 441.3,132.8" fill="none" stroke="#7a7a7a" stroke-width="0.8" stroke-linejoin="round"/>
<polyline points="431.8,146.0 433.0,150.0 432.5,154.0 434.0,158.0 435.5,162.0 437.6,163.5" fill="none" stroke="#2a2a2a" stroke-width="1.2" stroke-linejoin="round"/>
<polyline points="434.7,147.5 436.5,151.5 435.5,155.5 437.0,159.5 438.5,161.0" fill="none" stroke="#2a2a2a" stroke-width="1.2" stroke-linejoin="round"/>
<polyline points="426.0,158.5 431.0,157.5 434.5,159.5" fill="none" stroke="#2a2a2a" stroke-width="1.2" stroke-linejoin="round"/>
<polyline points="439.6,135.2 446.0,131.8 453.3,129.0" fill="none" stroke="#2a2a2a" stroke-width="1.2" stroke-linejoin="round"/>
<polyline points="262.5,91.5 264.5,96.0 263.0,99.5" fill="none" stroke="#2a2a2a" stroke-width="1.2" stroke-linejoin="round"/>
<polyline points="249.4,146.5 251.2,148.5" fill="none" stroke="#2a2a2a" stroke-width="1.2" stroke-linejoin="round"/>
<polyline points="256.5,171.5 258.5,173.5" fill="none" stroke="#2a2a2a" stroke-width="1.2" stroke-linejoin="round"/>
<circle cx="437.6" cy="162.8" r="1.3" fill="#111"/>
<polygon points="317.7,109.9 318.9,112.4 320.1,114.5 321.3,117.5 321.9,122.6 323.1,127.7 323.6,132.9 321.9,135.1 318.3,135.1 316.1,132.9 316.7,128.7 315.5,124.7 314.9,120.6 314.6,116.6 316.7,114.5 317.3,111.5" fill="#6f6a2e"/>
<polygon points="293.9,151.1 295.4,148.1 297.8,146.2 299.8,144.2 303.7,143.7 305.7,145.2 308.6,146.2 310.6,148.1 311.3,152.1 310.1,154.7 307.6,153.0 305.7,152.1 303.7,151.1 301.8,151.1 299.8,153.0 296.9,152.1 294.9,153.0" fill="#f3c94e"/>
<polygon points="375.5,142.8 378.3,141.8 380.3,141.1 382.3,142.5 384.4,143.5 386.4,144.8 389.1,148.9 391.1,152.3 391.8,155.0 390.5,158.4 389.1,161.1 387.7,163.1 385.0,163.8 382.3,162.5 380.3,159.1 378.9,155.7 378.3,152.3 379.6,149.6 378.9,148.2 376.2,150.3 375.2,148.9 376.6,146.9 374.9,144.8" fill="#f5e63c"/>
<polygon points="391.5,162.5 394.8,163.8 393.0,165.5 391.0,164.5" fill="#f5e63c"/>
<polygon points="397.6,176.5 401.2,168.6 405.2,160.6 409.2,154.2 413.5,150.5 420.6,151.8 421.4,154.6 416.6,161.0 411.0,167.4 404.4,173.8 399.8,177.6" fill="#d5c08c"/>
<polygon points="408.6,143.7 412.1,139.7 418.5,136.5 422.5,134.9 425.7,135.7 424.9,138.9 423.3,145.3 420.9,150.2 418.5,152.6 414.5,150.2 410.5,147.0" fill="#b5963c"/>
<polygon points="389.4,180.8 393.0,180.0 396.8,181.8 395.4,186.8 390.6,186.6" fill="#f2e4a0"/>
<circle cx="318.5" cy="123.1" r="14.8" fill="none" stroke="#0c95d6" stroke-width="2.3"/>
<circle cx="303.4" cy="149.2" r="13.4" fill="none" stroke="#a6233a" stroke-width="2.3"/>
<circle cx="378.7" cy="153" r="15.5" fill="none" stroke="#4f8f22" stroke-width="2.3"/>
<circle cx="404.4" cy="164.2" r="13.9" fill="none" stroke="#2b2005" stroke-width="2.3"/>
<circle cx="419.6" cy="141.1" r="13.2" fill="none" stroke="#c89800" stroke-width="2.3"/>
<line x1="211.5" y1="75.5" x2="304.5" y2="114.6" stroke="#0c95d6" stroke-width="2.3"/>
<line x1="293.9" y1="158" x2="221.3" y2="306.8" stroke="#a6233a" stroke-width="2.3"/>
<line x1="378.1" y1="168.2" x2="366" y2="290" stroke="#4f8f22" stroke-width="2.3"/>
<line x1="416.2" y1="177.7" x2="491.3" y2="305" stroke="#2b2005" stroke-width="2.3"/>
<line x1="428.5" y1="129.9" x2="483" y2="78.4" stroke="#c89800" stroke-width="2.3"/>
<path d="M658.8,28 Q662,21.5 670.5,18.4" fill="none" stroke="#f0c234" stroke-width="2" stroke-linecap="round"/>
<path d="M664.2,25.6 Q671.5,19.6 683.5,19.6" fill="none" stroke="#5e9e3c" stroke-width="2" stroke-linecap="round"/>
<path d="M661.8,28 Q670,22.6 678,22.9 Q686.6,23.6 687.4,29.5 Q687.6,33 685.6,36.2" fill="none" stroke="#2d9fdb" stroke-width="2" stroke-linecap="round"/>
<text x="655.5" y="41.6" style="font-family:'Liberation Serif', serif" font-size="23.5" fill="#3a3a3a" stroke="#3a3a3a" stroke-width="0.35" textLength="28" lengthAdjust="spacingAndGlyphs">eia</text>
<text x="7.5" y="529.5" font-size="13.5" letter-spacing="0.35" fill="#8f8f8f"><tspan font-weight="bold">Source:</tspan> U.S. Energy Information Administration, <tspan fill="#0c95d6">Weekly Coal Production</tspan>, based on MSHA data</text>
<text x="7.5" y="544.5" font-size="13.5" letter-spacing="0.38" fill="#8f8f8f"><tspan font-weight="bold">Note:</tspan> Data for January 2008 through June 2013 were revised to match the MSHA data. Data for July 2013 through</text>
<text x="7.5" y="559.2" font-size="13.5" letter-spacing="0.3" fill="#8f8f8f">December 2013 are preliminary EIA estimates.</text>
</svg></body></html>
